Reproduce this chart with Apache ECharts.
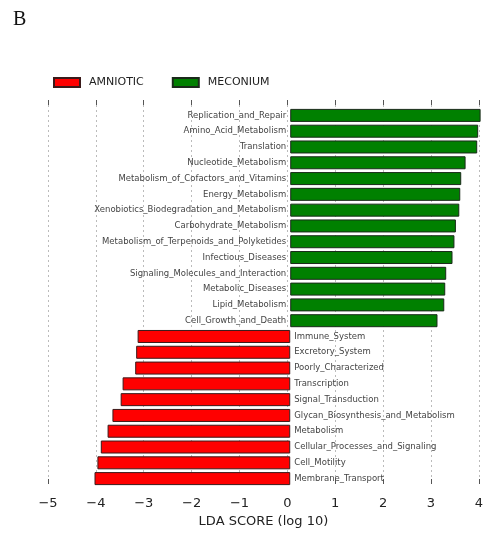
<!DOCTYPE html>
<html>
<head>
<meta charset="utf-8">
<script src="https://cdn.jsdelivr.net/npm/echarts@6/dist/echarts.min.js"></script>
<style>
html,body{margin:0;padding:0;background:#fff;}
#c{width:486px;height:533px;}
</style>
</head>
<body>
<div id="c"></div>
<script>
const meconiumCats = ["Replication_and_Repair","Amino_Acid_Metabolism","Translation","Nucleotide_Metabolism","Metabolism_of_Cofactors_and_Vitamins","Energy_Metabolism","Xenobiotics_Biodegradation_and_Metabolism","Carbohydrate_Metabolism","Metabolism_of_Terpenoids_and_Polyketides","Infectious_Diseases","Signaling_Molecules_and_Interaction","Metabolic_Diseases","Lipid_Metabolism","Cell_Growth_and_Death"];
const meconiumVals = [3.93,3.88,3.86,3.62,3.53,3.51,3.49,3.42,3.39,3.35,3.22,3.20,3.18,3.04];
const amnioticCats = ["Immune_System","Excretory_System","Poorly_Characterized","Transcription","Signal_Transduction","Glycan_Biosynthesis_and_Metabolism","Metabolism","Cellular_Processes_and_Signaling","Cell_Motility","Membrane_Transport"];
const amnioticVals = [-3.15,-3.18,-3.20,-3.46,-3.50,-3.67,-3.77,-3.91,-3.98,-4.04];
const xTicks = [-5,-4,-3,-2,-1,0,1,2,3,4];

const cats = meconiumCats.concat(amnioticCats);
const mecData = cats.map((c,i)=> i < meconiumVals.length ? meconiumVals[i] : null);
const amnData = cats.map((c,i)=> i >= meconiumVals.length ? amnioticVals[i-meconiumVals.length] : null);

const chart = echarts.init(document.getElementById('c'), null, {renderer:'canvas'});
const fmt = v => (v < 0 ? '\u2212' + Math.abs(v) : String(v));
const labelStyle = {fontFamily:'DejaVu Sans', fontSize:8.5, color:'#444'};
chart.setOption({
  animation:false,
  title:{text:'B', left:8, top:5, textStyle:{fontFamily:'Liberation Serif', fontWeight:'normal', fontSize:20, color:'#111'}},
  legend:{
    data:['AMNIOTIC','MECONIUM'], left:48, top:72, itemWidth:26, itemHeight:9, itemGap:28,
    icon:'rect',
    textStyle:{fontFamily:'DejaVu Sans', fontSize:11, color:'#222', padding:[0,0,0,4]}
  },
  grid:[
    {left:48, right:2, top:100, height:393},
    {left:48, right:2, top:107.5, height:379}
  ],
  xAxis:[
    {gridIndex:0, type:'value', min:-5, max:4, interval:1, position:'bottom',
     axisLine:{show:false}, axisTick:{show:true, inside:true, length:5, lineStyle:{color:'#555'}},
     axisLabel:{fontFamily:'DejaVu Sans', fontSize:13, color:'#222', margin:13, formatter:fmt},
     splitLine:{show:true, lineStyle:{type:[2,3], color:'#bbb', width:1}},
     name:'LDA SCORE (log 10)', nameLocation:'middle', nameGap:31,
     nameTextStyle:{fontFamily:'DejaVu Sans', fontSize:13, color:'#222'}},
    {gridIndex:0, type:'value', min:-5, max:4, interval:1, position:'top',
     axisLine:{show:false}, axisTick:{show:true, inside:true, length:5, lineStyle:{color:'#555'}},
     axisLabel:{show:false}, splitLine:{show:false}},
    {gridIndex:1, type:'value', min:-5, max:4, interval:1, show:false}
  ],
  yAxis:[
    {gridIndex:0, type:'value', min:0, max:1, show:false},
    {gridIndex:1, type:'category', data:cats, inverse:true, show:false}
  ],
  series:[
    {name:'AMNIOTIC', type:'bar', xAxisIndex:2, yAxisIndex:1, stack:'s', data:amnData,
     barWidth:13, itemStyle:{color:'#ff0000', borderColor:'#3a1a1a', borderWidth:1},
     label:{show:true, position:'right', distance:4, formatter:p=>p.name, ...labelStyle}},
    {name:'MECONIUM', type:'bar', xAxisIndex:2, yAxisIndex:1, stack:'s', data:mecData,
     barWidth:13, itemStyle:{color:'#008000', borderColor:'#1a2a1a', borderWidth:1},
     label:{show:true, position:'left', distance:4, formatter:p=>p.name, ...labelStyle}}
  ]
});
</script>
</body>
</html>
